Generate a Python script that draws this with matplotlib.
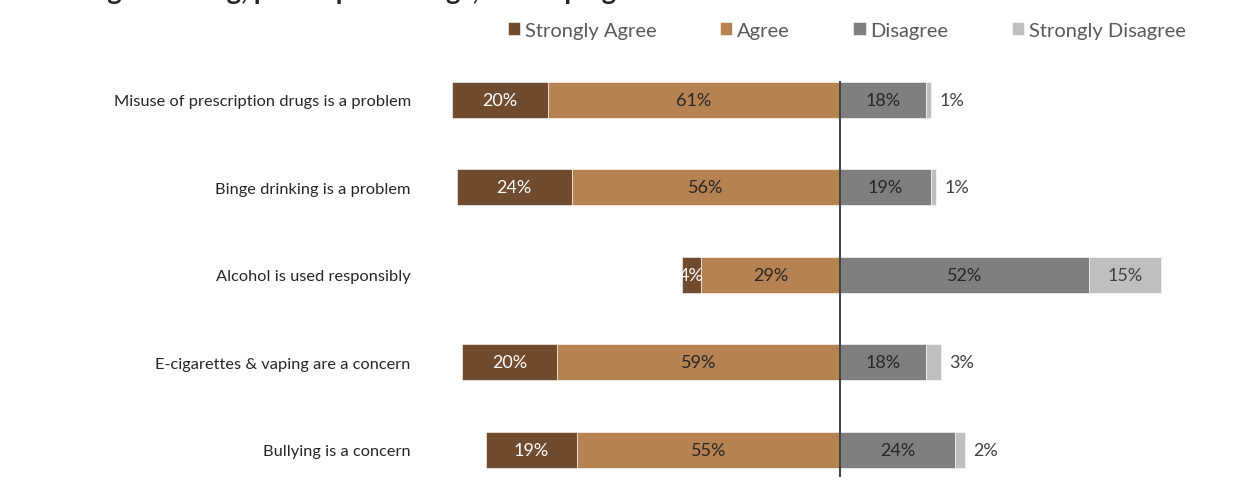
import matplotlib
matplotlib.use("Agg")
import matplotlib.pyplot as plt
import numpy as np

categories = [
    "Misuse of prescription drugs is a problem",
    "Binge drinking is a problem",
    "Alcohol is used responsibly",
    "E-cigarettes & vaping are a concern",
    "Bullying is a concern",
]
series_names = ["Strongly Agree", "Agree", "Disagree", "Strongly Disagree"]
strongly_agree = [20, 24, 4, 20, 19]
agree = [61, 56, 29, 59, 55]
disagree = [18, 19, 52, 18, 24]
strongly_disagree = [1, 1, 15, 3, 2]
title_text = "binge drinking, prescription drugs, and vaping"

colors = ["#714B2D", "#B68252", "#7F7F7F", "#BFBFBF"]
label_colors = ["white", "#262626", "#262626", "#404040"]

plt.rcParams['font.family'] = ['Lato', 'DejaVu Sans']

W, H = 1248, 485
fig = plt.figure(figsize=(W / 100, H / 100), dpi=100)
px_per = 4.79
ax_l, ax_r = 440, 1200
ax_top, ax_bot = 57, 485
ax = fig.add_axes([ax_l / W, 1 - ax_bot / H, (ax_r - ax_l) / W, (ax_bot - ax_top) / H])
ax.set_xlim(-(840 - ax_l) / px_per, (ax_r - 840) / px_per)
ax.set_ylim(4.39, -0.5)

y = np.arange(len(categories))
sa = np.array(strongly_agree)
ag = np.array(agree)
di = np.array(disagree)
sd = np.array(strongly_disagree)
h = 0.41

segments = [
    (-(sa + ag), sa),
    (-ag, ag),
    (np.zeros_like(di), di),
    (di, sd),
]
bars = []
for (left, width), c, name in zip(segments, colors, series_names):
    b = ax.barh(y, width, left=left, height=h, color=c, edgecolor="white",
                linewidth=0.4, label=name)
    bars.append(b)

# data labels
for si, ((left, width), b) in enumerate(zip(segments, bars)):
    for i in range(len(y)):
        v = width[i]
        txt = f"{v}%"
        if si == 3 and v < 5:
            ax.text(left[i] + v + 4.3, y[i], txt, ha="center", va="center",
                    fontsize=13, color="#404040")
        else:
            ax.text(left[i] + v / 2, y[i], txt, ha="center", va="center",
                    fontsize=13, color=label_colors[si])

ax.vlines(0, -0.21, 4.31, color="#404040", linewidth=1.4, zorder=5)

ax.set_yticks(y)
ax.set_yticklabels(categories, fontsize=11.8, color="#262626")
ax.tick_params(axis="y", length=0, pad=21)
ax.tick_params(axis="x", bottom=False, labelbottom=False)
for s in ax.spines.values():
    s.set_visible(False)

leg = fig.legend(handles=bars, labels=series_names, loc="center",
                 bbox_to_anchor=(847 / W, 1 - 31 / H), ncol=4, frameon=False,
                 fontsize=14.5, handlelength=0.6, handleheight=0.6,
                 handletextpad=0.25, columnspacing=3.15, labelcolor="#595959")

fig.text(70 / W, 1.0, title_text, ha="left", va="baseline", fontsize=19.5,
         fontweight="bold", color="#262626")

fig.savefig("out.png", dpi=100)
